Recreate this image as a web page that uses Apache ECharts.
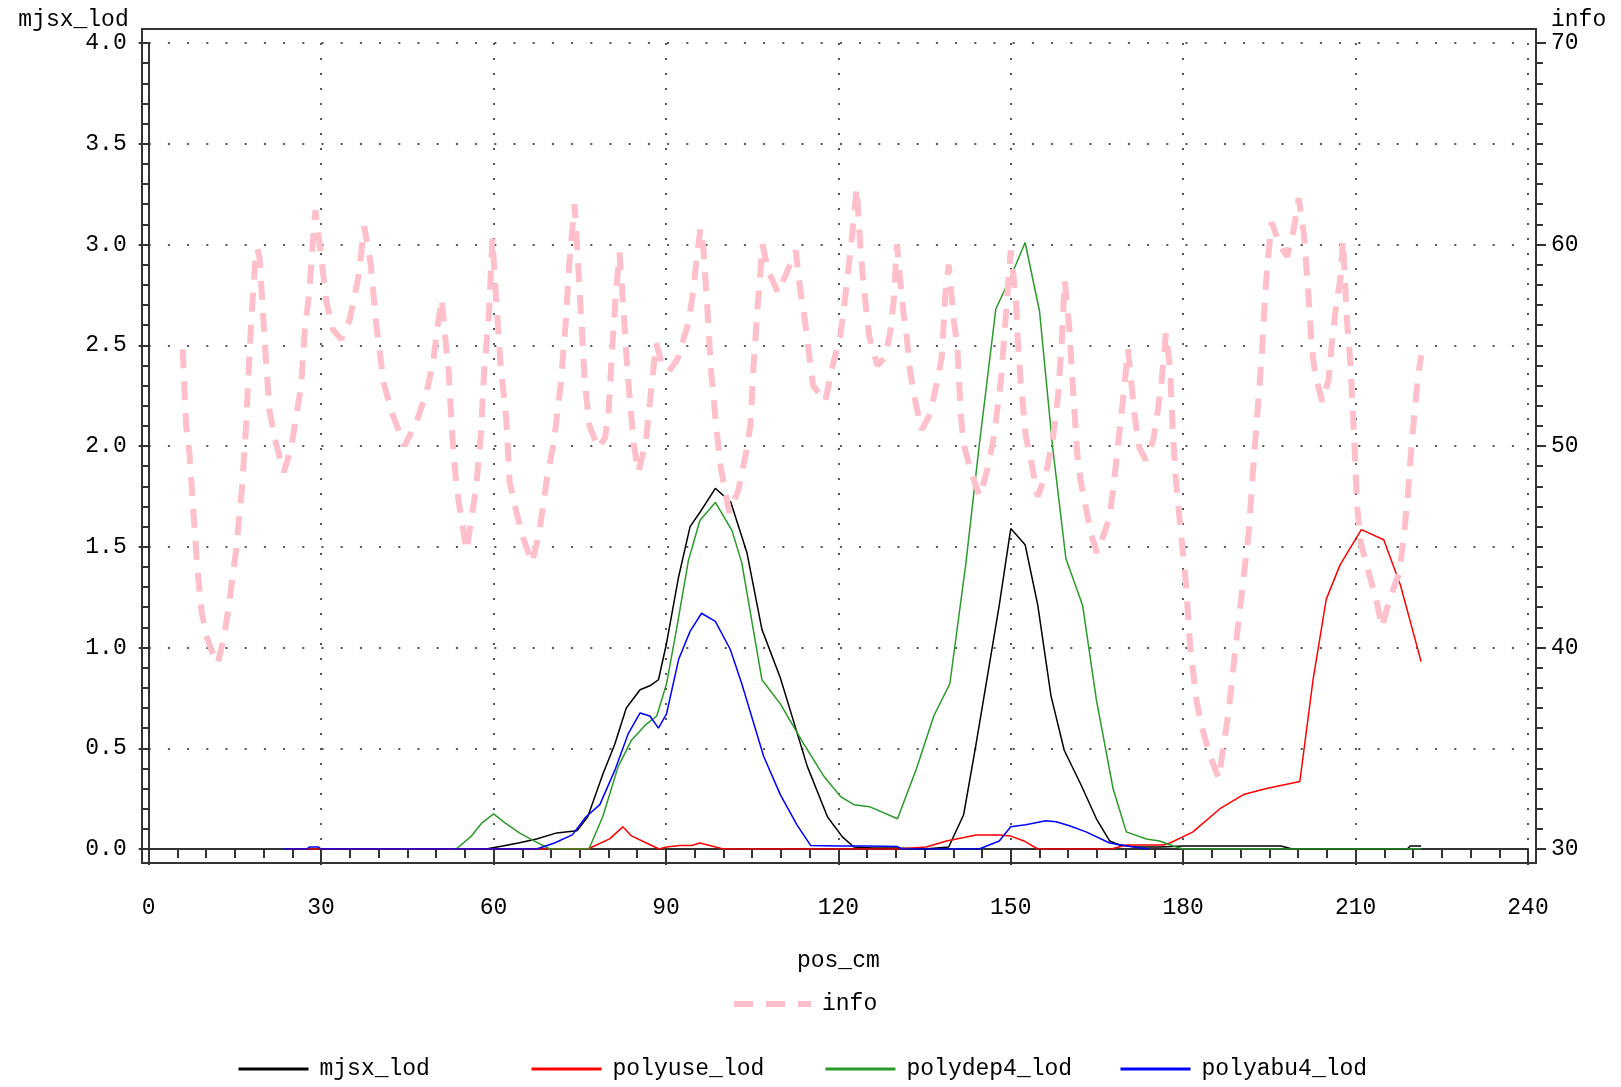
<!DOCTYPE html>
<html>
<head>
<meta charset="utf-8">
<script src="https://cdn.jsdelivr.net/npm/echarts@6/dist/echarts.min.js"></script>
<style>
html, body { margin: 0; padding: 0; background: #fff; }
#main { width: 1621px; height: 1087px; }
</style>
</head>
<body>
<div id="main"></div>
<script>
// pairs of [pos_cm, value]
var mjsxLod = [[58.7,0.0],[61.6,0.015],[64.3,0.03],[67.5,0.05],[71.0,0.08],[74.5,0.09],[76.4,0.16],[79.0,0.37],[81.1,0.52],[83.1,0.70],[85.5,0.79],[87.2,0.81],[88.7,0.84],[90.1,1.02],[92.2,1.35],[94.2,1.60],[95.9,1.67],[98.6,1.79],[101.3,1.72],[104.1,1.47],[106.7,1.09],[109.9,0.85],[114.6,0.41],[118.1,0.16],[120.7,0.06],[122.7,0.01],[126,0.005],[130,0.005],[135,0.0],[139.2,0.01],[141.8,0.17],[143.9,0.51],[145.9,0.85],[148.0,1.21],[150.0,1.59],[152.5,1.51],[154.7,1.21],[157.0,0.76],[159.3,0.49],[162.2,0.32],[164.9,0.15],[167.2,0.04],[168.9,0.02],[172,0.01],[176,0.01],[180,0.015],[185,0.015],[190,0.015],[197,0.015],[199,0.0],[210,0.0],[219,0.0],[219.5,0.015],[221.4,0.015]];

var polyuseLod = [[24,0.0],[30,0.0],[40,0.0],[50,0.0],[60,0.0],[70,0.0],[76.4,0.0],[80.2,0.05],[82.5,0.11],[84.0,0.065],[86.6,0.03],[88.8,0.0],[90.1,0.01],[92.4,0.017],[94.5,0.017],[95.9,0.03],[98.3,0.012],[100.0,0.0],[110,0.0],[120,0.0],[130.3,0.0],[135.3,0.01],[138.8,0.04],[144.0,0.07],[148.0,0.07],[150.0,0.064],[152.3,0.04],[154.7,0.0],[160,0.0],[167.5,0.0],[170.1,0.02],[176.5,0.02],[177.7,0.03],[181.7,0.085],[186.4,0.2],[190.5,0.27],[194.5,0.30],[200.3,0.335],[202.6,0.84],[204.9,1.24],[207.3,1.41],[211.0,1.585],[214.9,1.535],[217.8,1.31],[221.4,0.93]];

var polydep4Lod = [[53.5,0.0],[56,0.06],[58,0.13],[60.0,0.174],[62,0.13],[64.5,0.08],[66.7,0.045],[69.8,0.0],[73,0.0],[76.6,0.0],[79.0,0.16],[81.7,0.41],[84.0,0.54],[86.6,0.62],[88.4,0.66],[90.1,0.82],[91.9,1.10],[93.9,1.43],[95.9,1.63],[98.6,1.72],[101.5,1.58],[103.2,1.42],[106.7,0.84],[109.9,0.72],[114.0,0.52],[117.5,0.36],[120.4,0.26],[122.7,0.22],[125.4,0.21],[130.3,0.15],[133.6,0.40],[136.6,0.66],[139.4,0.82],[142.2,1.42],[144.5,2.00],[147.4,2.68],[150.0,2.84],[152.5,3.01],[155.0,2.67],[157.3,1.99],[159.6,1.44],[162.5,1.21],[164.9,0.74],[167.8,0.30],[170.1,0.085],[173.6,0.05],[175.9,0.04],[178.8,0.01],[180,0.0],[190,0.0],[200,0.0],[210,0.0],[221.4,0.0]];

var polyabu4Lod = [[23.5,0.0],[27.5,0.0],[28.0,0.01],[29.5,0.01],[30.0,0.0],[40,0.0],[50,0.0],[60,0.0],[67.5,0.0],[70.6,0.03],[73.7,0.07],[76.1,0.16],[78.5,0.22],[81.1,0.39],[83.4,0.57],[85.5,0.675],[87.2,0.66],[88.7,0.60],[90.1,0.67],[92.2,0.94],[94.2,1.08],[96.2,1.17],[98.6,1.13],[101.2,0.99],[103.2,0.82],[107.0,0.46],[109.9,0.27],[112.8,0.12],[115.2,0.017],[120,0.015],[125,0.015],[130.3,0.012],[131,0.0],[144.5,0.0],[148.0,0.04],[150.0,0.11],[152.6,0.12],[156.1,0.14],[157.9,0.135],[160.2,0.115],[163.1,0.085],[167.2,0.03],[171.3,0.01],[174,0.0]];

var infoCurve = [[5.9,54.8],[6.5,51.1],[7.1,49.6],[7.8,46.6],[8.5,43.8],[9.2,41.8],[10.0,40.6],[11.0,39.8],[12.0,39.2],[13.1,40.5],[13.9,42.0],[15.2,44.8],[16.2,47.8],[16.9,50.8],[17.4,53.8],[17.9,56.5],[18.5,59.0],[18.9,59.8],[19.3,59.3],[19.8,57.0],[20.4,54.3],[21.0,51.8],[21.9,50.4],[23.5,48.7],[24.8,49.9],[25.6,51.4],[26.5,52.9],[27.2,55.9],[27.9,57.5],[28.4,59.5],[29.0,61.7],[29.7,60.1],[30.3,58.7],[30.9,57.2],[32.0,55.8],[33.5,55.3],[35.0,56.3],[36.5,58.4],[37.5,60.9],[38.6,59.1],[39.6,56.0],[40.9,53.1],[42.4,51.6],[44.5,50.0],[46.6,51.2],[48.3,52.6],[49.5,54.2],[50.3,56.0],[51.0,57.3],[51.6,55.4],[52.2,53.7],[52.8,50.6],[53.5,48.1],[54.3,46.6],[55.3,44.8],[56.0,46.1],[57.0,48.0],[57.8,50.6],[58.4,53.9],[59.2,56.5],[59.8,60.3],[60.5,57.1],[61.2,54.1],[62.2,51.4],[62.8,48.2],[64.0,46.7],[65.2,45.4],[66.7,44.2],[67.9,45.6],[69.3,48.4],[70.5,50.2],[71.7,53.1],[72.5,55.9],[73.2,59.1],[74.1,62.0],[74.7,59.1],[75.3,56.1],[75.9,53.1],[76.7,51.0],[78.2,49.9],[79.4,50.4],[80.0,51.6],[80.6,54.6],[81.2,57.2],[81.9,59.6],[82.4,57.7],[83.0,55.0],[83.6,52.7],[84.4,50.1],[85.2,48.7],[86.5,50.2],[87.4,52.7],[88.3,55.1],[89.2,54.2],[90.5,53.7],[92.0,54.3],[93.9,56.1],[94.6,57.4],[95.2,58.9],[96.0,60.8],[96.5,59.9],[97.2,56.9],[97.8,53.9],[98.7,51.1],[99.5,49.0],[101.0,46.7],[102.6,47.8],[103.9,49.6],[104.7,51.0],[105.2,53.8],[105.9,56.7],[106.8,60.0],[107.8,58.7],[109.5,57.6],[111.0,58.6],[112.6,59.7],[113.3,57.9],[114.2,56.2],[114.8,54.8],[115.6,53.0],[117.7,52.2],[119.1,54.1],[120.3,55.4],[121.0,56.9],[121.6,58.4],[122.3,60.2],[123.2,62.8],[123.8,60.0],[124.2,58.6],[124.8,56.9],[125.4,55.4],[126.8,54.0],[128.1,54.4],[129.0,55.6],[129.6,57.1],[130.2,60.0],[130.7,58.4],[131.3,56.7],[131.9,55.4],[132.4,53.9],[133.1,52.6],[134.5,50.8],[136.0,51.6],[137.1,53.1],[138.0,54.4],[138.6,57.5],[139.2,59.0],[140.1,56.2],[140.7,55.0],[141.3,51.6],[141.8,50.1],[143.0,48.8],[144.6,47.5],[145.9,48.8],[147.1,50.5],[148.3,53.3],[148.8,55.2],[149.4,57.5],[150.0,59.7],[150.9,57.3],[151.2,55.4],[151.7,53.3],[152.6,50.5],[153.5,49.3],[154.7,47.5],[156.1,48.6],[157.3,50.3],[158.2,52.4],[158.8,54.8],[159.4,58.2],[160.2,55.8],[160.8,52.9],[161.6,49.5],[162.2,48.2],[163.1,46.9],[163.9,45.7],[165.0,44.7],[166.3,45.7],[167.2,46.5],[167.8,47.8],[168.9,50.7],[169.5,52.2],[170.4,54.8],[171.0,53.1],[171.5,51.6],[172.4,49.9],[173.5,49.3],[174.8,50.3],[175.6,51.8],[176.2,53.1],[177.0,55.6],[177.7,53.9],[178.2,50.7],[178.7,48.4],[179.4,46.3],[180.0,44.6],[180.5,43.1],[181.2,40.1],[181.7,38.9],[182.3,37.4],[183.2,36.1],[184.4,34.9],[185.5,34.0],[186.2,33.5],[187.0,35.1],[187.9,36.8],[189.0,39.7],[190.2,42.7],[191.4,45.7],[192.2,49.0],[192.8,51.2],[193.7,54.6],[194.3,57.7],[194.8,59.4],[195.4,61.1],[196.9,59.9],[198.1,59.4],[199.2,60.7],[200.1,62.3],[201.0,60.5],[201.8,57.5],[202.4,54.8],[203.0,53.5],[204.2,52.2],[205.3,53.3],[205.9,55.2],[206.5,56.7],[207.4,58.4],[207.8,60.2],[208.5,56.2],[209.1,54.1],[209.7,50.7],[210.3,46.9],[210.9,45.2],[212.0,44.0],[213.5,42.5],[214.6,41.0],[215.9,42.4],[217.6,43.7],[218.5,45.8],[219.1,47.6],[219.7,49.9],[220.2,51.5],[220.8,53.3],[221.4,54.5]];

var FONT = 'Liberation Mono';
var FS = 23;
var AX = '#333';
var DOT = '#555';
var PINK = '#ffc0cb';
var INFO_DASH = [19, 13];

var myChart = echarts.init(document.getElementById('main'));

function lineSeries(name, data, color, yIdx) {
    return {
        name: name,
        type: 'line',
        xAxisIndex: 0,
        yAxisIndex: yIdx,
        data: data,
        symbol: 'none',
        showSymbol: false,
        lineStyle: { color: color, width: 1.5 },
        itemStyle: { color: color }
    };
}

// one legend per entry so the columns sit at fixed places
function legendAt(name, left, top, w, lineStyle) {
    return {
        data: [name],
        left: left,
        top: top,
        itemWidth: w,
        itemHeight: 14,
        selectedMode: false,
        itemStyle: { opacity: 0 },
        lineStyle: lineStyle,
        textStyle: { fontFamily: FONT, fontSize: FS, color: '#000', padding: [0, 0, 0, 6], lineHeight: 24 }
    };
}

var option = {
    animation: false,
    backgroundColor: '#fff',
    textStyle: { fontFamily: FONT },
    grid: [
        { left: 148.7, right: 93, top: 43, bottom: 238 },
        { left: 142, right: 85, top: 29, bottom: 224, show: true, borderColor: AX, borderWidth: 2, backgroundColor: 'transparent' }
    ],
    legend: [
        legendAt('info', 726, 987, 77, { width: 6, color: PINK, type: INFO_DASH }),
        legendAt('mjsx_lod', 232, 1052, 70, { width: 3 }),
        legendAt('polyuse_lod', 525, 1052, 70, { width: 3 }),
        legendAt('polydep4_lod', 819, 1052, 70, { width: 3 }),
        legendAt('polyabu4_lod', 1114, 1052, 70, { width: 3 })
    ],
    xAxis: [
        {
            gridIndex: 0,
            type: 'value',
            min: 0, max: 240, interval: 30,
            offset: 14,
            name: 'pos_cm',
            nameLocation: 'middle',
            nameGap: 86,
            nameTextStyle: { fontSize: FS, color: '#000' },
            axisLine: { lineStyle: { color: AX, width: 2 } },
            axisTick: { length: 16, lineStyle: { color: AX, width: 2 } },
            minorTick: { show: true, splitNumber: 6, length: 9, lineStyle: { color: AX, width: 2 } },
            axisLabel: { margin: 33, fontSize: FS, color: '#000' },
            splitLine: { show: true, lineStyle: { color: DOT, width: 2, type: [2, 13] } }
        },
        { gridIndex: 1, type: 'value', min: 0, max: 1, show: false }
    ],
    yAxis: [
        {
            gridIndex: 0,
            type: 'value',
            min: 0, max: 4, interval: 0.5,
            offset: 7,
            name: 'mjsx_lod',
            nameLocation: 'end',
            nameGap: 11,
            nameTextStyle: { fontSize: FS, color: '#000', align: 'right', padding: [0, 20, 0, 0] },
            axisLine: { show: true, lineStyle: { color: AX, width: 2 } },
            axisTick: { show: true, length: 10, lineStyle: { color: AX, width: 2 } },
            minorTick: { show: true, splitNumber: 5, length: 7, lineStyle: { color: AX, width: 2 } },
            axisLabel: { margin: 15, fontSize: FS, color: '#000', padding: [10, 0, 0, 0], formatter: function (v) { return v.toFixed(1); } },
            splitLine: { show: true, lineStyle: { color: DOT, width: 2, type: [2, 17.2] } }
        },
        {
            gridIndex: 0,
            type: 'value',
            position: 'right',
            min: 30, max: 70, interval: 10,
            offset: 8,
            name: 'info',
            nameLocation: 'end',
            nameGap: 11,
            nameTextStyle: { fontSize: FS, color: '#000', align: 'left', padding: [0, 0, 0, 15] },
            axisLine: { show: true, lineStyle: { color: AX, width: 2 } },
            axisTick: { show: true, length: 10, lineStyle: { color: AX, width: 2 } },
            minorTick: { show: true, splitNumber: 10, length: 7, lineStyle: { color: AX, width: 2 } },
            axisLabel: { margin: 15, fontSize: FS, color: '#000', padding: [10, 0, 0, 0] },
            splitLine: { show: false }
        },
        { gridIndex: 1, type: 'value', min: 0, max: 1, show: false }
    ],
    series: [
        lineSeries('mjsx_lod', mjsxLod, '#000000', 0),
        lineSeries('polyuse_lod', polyuseLod, '#ff0000', 0),
        lineSeries('polydep4_lod', polydep4Lod, '#2a9a2a', 0),
        lineSeries('polyabu4_lod', polyabu4Lod, '#0000ff', 0),
        {
            name: 'info',
            type: 'line',
            xAxisIndex: 0,
            yAxisIndex: 1,
            data: infoCurve,
            symbol: 'none',
            showSymbol: false,
            lineStyle: { color: PINK, width: 6, type: INFO_DASH },
            itemStyle: { color: PINK }
        }
    ]
};
myChart.setOption(option);
</script>
</body>
</html>
